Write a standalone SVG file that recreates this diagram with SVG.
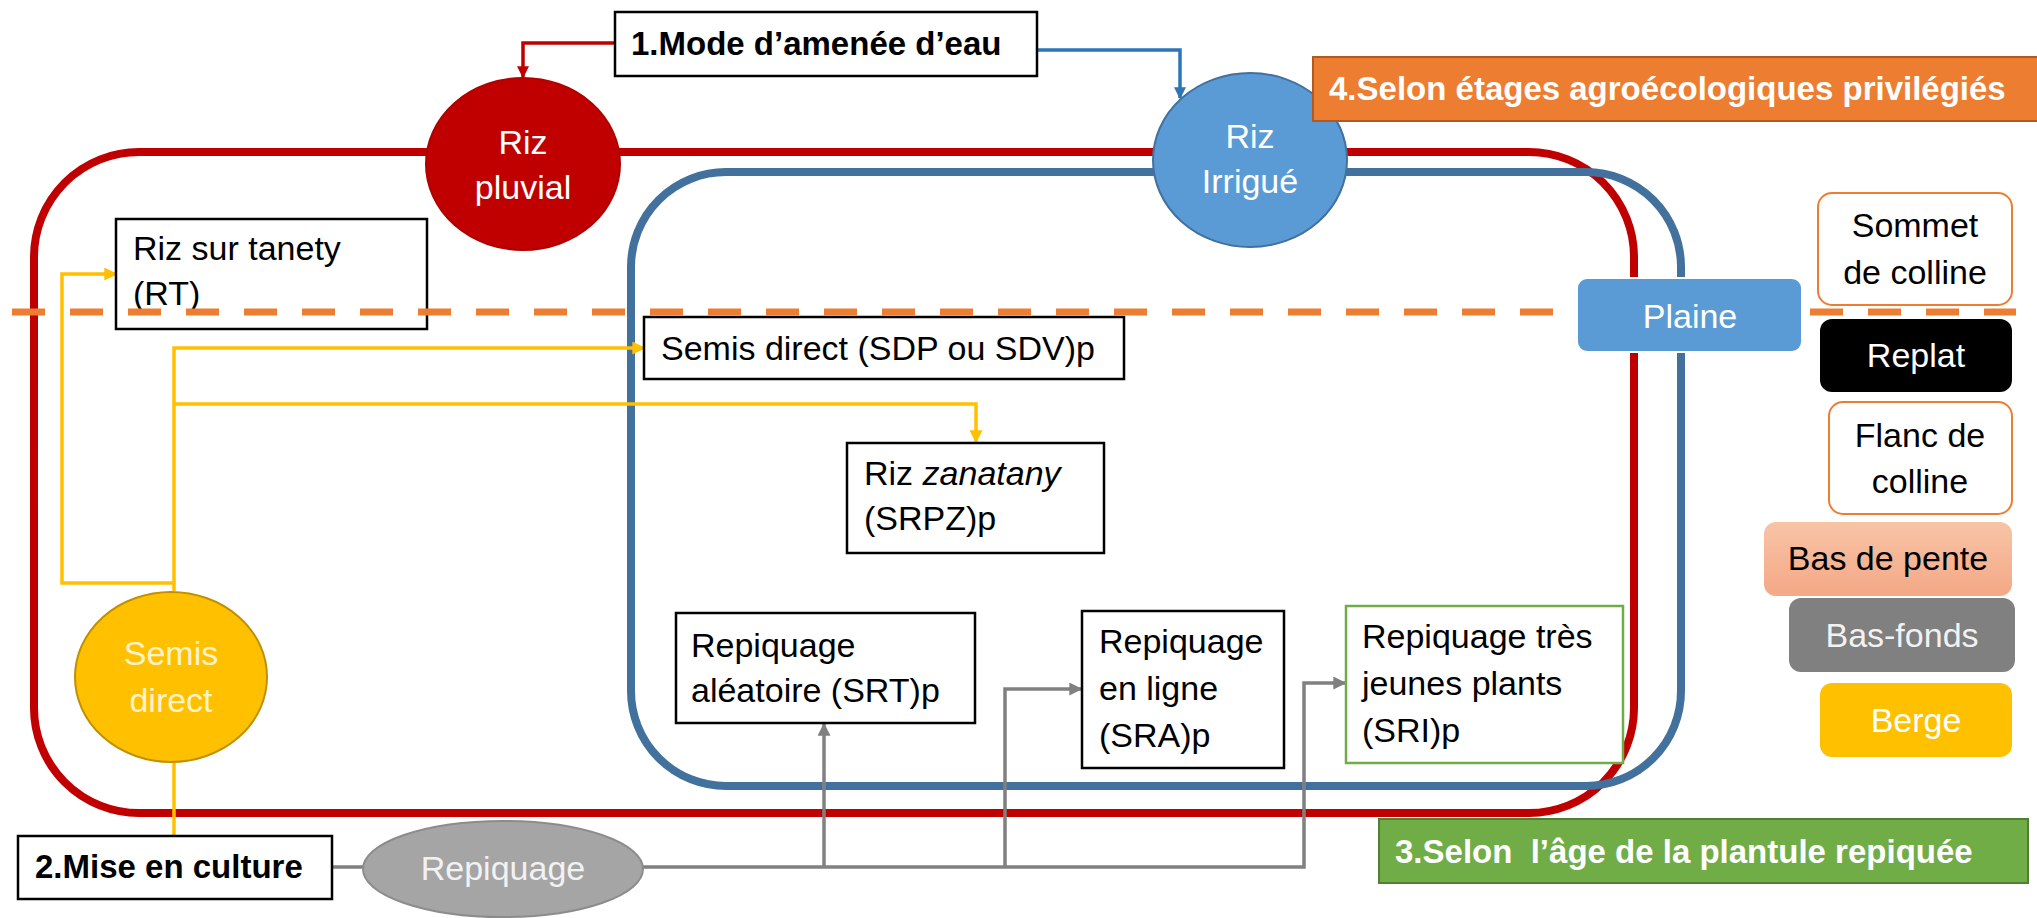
<svg xmlns="http://www.w3.org/2000/svg" width="2037" height="918" viewBox="0 0 2037 918">
<defs>
<style>
text{font-family:"Liberation Sans",Arial,sans-serif;font-size:34px;}
.b{font-weight:bold;font-size:33px;}
.w{fill:#ffffff;}
.k{fill:#000000;}
.box{fill:#ffffff;stroke:#000000;stroke-width:2.5;}
.c{text-anchor:middle;}
.yl{fill:none;stroke:#FFC000;stroke-width:3.5;}
.gl{fill:none;stroke:#808080;stroke-width:3.5;}
</style>
<marker id="ar" viewBox="0 0 10 10" refX="9" refY="5" markerWidth="12" markerHeight="12" markerUnits="userSpaceOnUse" orient="auto"><path d="M0,0 L10,5 L0,10 z" fill="#C00000"/></marker>
<marker id="ab" viewBox="0 0 10 10" refX="9" refY="5" markerWidth="12" markerHeight="12" markerUnits="userSpaceOnUse" orient="auto"><path d="M0,0 L10,5 L0,10 z" fill="#2E75B6"/></marker>
<marker id="ay" viewBox="0 0 10 10" refX="9" refY="5" markerWidth="13" markerHeight="13" markerUnits="userSpaceOnUse" orient="auto"><path d="M0,0 L10,5 L0,10 z" fill="#FFC000"/></marker>
<marker id="ag" viewBox="0 0 10 10" refX="9" refY="5" markerWidth="13" markerHeight="13" markerUnits="userSpaceOnUse" orient="auto"><path d="M0,0 L10,5 L0,10 z" fill="#808080"/></marker>
<linearGradient id="gp" x1="0" y1="0" x2="0" y2="1"><stop offset="0" stop-color="#F7C4A6"/><stop offset="1" stop-color="#F4A886"/></linearGradient>
</defs>
<rect width="2037" height="918" fill="#ffffff"/>

<g id="container-pluvial"><rect x="34" y="152" width="1600" height="661" rx="105" ry="105" fill="none" stroke="#C00000" stroke-width="8"/></g>
<g id="container-irrigue"><rect x="631" y="172" width="1050" height="614" rx="95" ry="95" fill="none" stroke="#41719C" stroke-width="8"/></g>

<g id="connectors">
<path d="M615,43 H523 V77" fill="none" stroke="#C00000" stroke-width="3.5" marker-end="url(#ar)"/>
<path d="M1021,50 H1180 V98" fill="none" stroke="#2E75B6" stroke-width="3.5" marker-end="url(#ab)"/>
<path class="yl" d="M174,591 V348 H644" marker-end="url(#ay)"/>
<path class="yl" d="M174,404 H976 V442" marker-end="url(#ay)"/>
<path class="yl" d="M174,583 H62 V274 H116" marker-end="url(#ay)"/>
<path class="yl" d="M174,762 V836"/>
<path class="gl" d="M332,867 H364" stroke-width="5"/>
<path class="gl" d="M643,867 H1304 V683 H1345" marker-end="url(#ag)"/>
<path class="gl" d="M824,867 V724" marker-end="url(#ag)"/>
<path class="gl" d="M1005,867 V689 H1081" marker-end="url(#ag)"/>
</g>

<g id="mode"><rect class="box" x="615" y="12" width="422" height="64"/><text class="b k" x="631" y="55">1.Mode d’amenée d’eau</text></g>
<g id="riz-pluvial"><ellipse cx="523" cy="164" rx="97" ry="86" fill="#C00000" stroke="#B00000" stroke-width="2"/><text class="w c" x="523" y="154">Riz</text><text class="w c" x="523" y="199">pluvial</text></g>
<g id="riz-irrigue"><ellipse cx="1250" cy="160" rx="97" ry="87" fill="#5B9BD5" stroke="#41719C" stroke-width="2"/><text class="w c" x="1250" y="148">Riz</text><text class="w c" x="1250" y="193">Irrigué</text></g>
<g id="etages"><rect x="1313" y="57" width="730" height="64" fill="#ED7D31" stroke="#AE5A21" stroke-width="2"/><text class="b w" x="1329" y="100">4.Selon étages agroécologiques privilégiés</text></g>

<g id="riz-tanety"><rect class="box" x="116" y="219" width="311" height="110"/><text class="k" x="133" y="260">Riz sur tanety</text><text class="k" x="133" y="305">(RT)</text></g>
<g id="semis-sdp"><rect class="box" x="644" y="317" width="480" height="62"/><text class="k" x="661" y="360">Semis direct (SDP ou SDV)p</text></g>
<g id="zanatany"><rect class="box" x="847" y="443" width="257" height="110"/><text class="k" x="864" y="485">Riz <tspan font-style="italic">zanatany</tspan></text><text class="k" x="864" y="530">(SRPZ)p</text></g>
<g id="srt"><rect class="box" x="676" y="613" width="299" height="110"/><text class="k" x="691" y="657">Repiquage</text><text class="k" x="691" y="702">aléatoire (SRT)p</text></g>
<g id="sra"><rect class="box" x="1082" y="611" width="202" height="157"/><text class="k" x="1099" y="653">Repiquage</text><text class="k" x="1099" y="700">en ligne</text><text class="k" x="1099" y="747">(SRA)p</text></g>
<g id="sri"><rect x="1346" y="606" width="277" height="157" fill="#ffffff" stroke="#70AD47" stroke-width="2.5"/><text class="k" x="1362" y="648">Repiquage très</text><text class="k" x="1362" y="695">jeunes plants</text><text class="k" x="1362" y="742">(SRI)p</text></g>

<g id="semis-direct"><ellipse cx="171" cy="677" rx="96" ry="85" fill="#FFC000" stroke="#BF9000" stroke-width="2"/><text class="c" x="171" y="665" fill="#FFF2CC">Semis</text><text class="c" x="171" y="712" fill="#FFF2CC">direct</text></g>
<g id="mise-culture"><rect class="box" x="18" y="836" width="314" height="63"/><text class="b k" x="35" y="878">2.Mise en culture</text></g>
<g id="repiquage"><ellipse cx="503" cy="869" rx="140" ry="48" fill="#A5A5A5" stroke="#8C8C8C" stroke-width="2"/><text class="c" x="503" y="880" fill="#F2F2F2">Repiquage</text></g>
<g id="age"><rect x="1379" y="819" width="649" height="64" fill="#70AD47" stroke="#507E32" stroke-width="2"/><text class="b w" x="1395" y="863" style="white-space:pre">3.Selon  l’âge de la plantule repiquée</text></g>

<g id="separateur"><line x1="12" y1="312" x2="2016" y2="312" stroke="#ED7D31" stroke-width="7" stroke-dasharray="33 25"/></g>

<g id="plaine"><rect x="1577" y="278" width="225" height="74" rx="10" ry="10" fill="#5B9BD5" stroke="#ffffff" stroke-width="2"/><text class="w c" x="1690" y="328">Plaine</text></g>
<g id="sommet"><rect x="1818" y="193" width="194" height="112" rx="14" ry="14" fill="#ffffff" stroke="#ED7D31" stroke-width="2"/><text class="k c" x="1915" y="237">Sommet</text><text class="k c" x="1915" y="284">de colline</text></g>
<g id="replat"><rect x="1820" y="319" width="192" height="73" rx="12" ry="12" fill="#000000"/><text class="w c" x="1916" y="367">Replat</text></g>
<g id="flanc"><rect x="1829" y="402" width="183" height="112" rx="14" ry="14" fill="#ffffff" stroke="#ED7D31" stroke-width="2"/><text class="k c" x="1920" y="447">Flanc de</text><text class="k c" x="1920" y="493">colline</text></g>
<g id="bas-pente"><rect x="1764" y="522" width="248" height="74" rx="12" ry="12" fill="url(#gp)"/><text class="k c" x="1888" y="570">Bas de pente</text></g>
<g id="bas-fonds"><rect x="1789" y="598" width="226" height="74" rx="12" ry="12" fill="#808080"/><text class="c" x="1902" y="647" fill="#F2F2F2">Bas-fonds</text></g>
<g id="berge"><rect x="1820" y="683" width="192" height="74" rx="12" ry="12" fill="#FFC000"/><text class="w c" x="1916" y="732">Berge</text></g>
</svg>
